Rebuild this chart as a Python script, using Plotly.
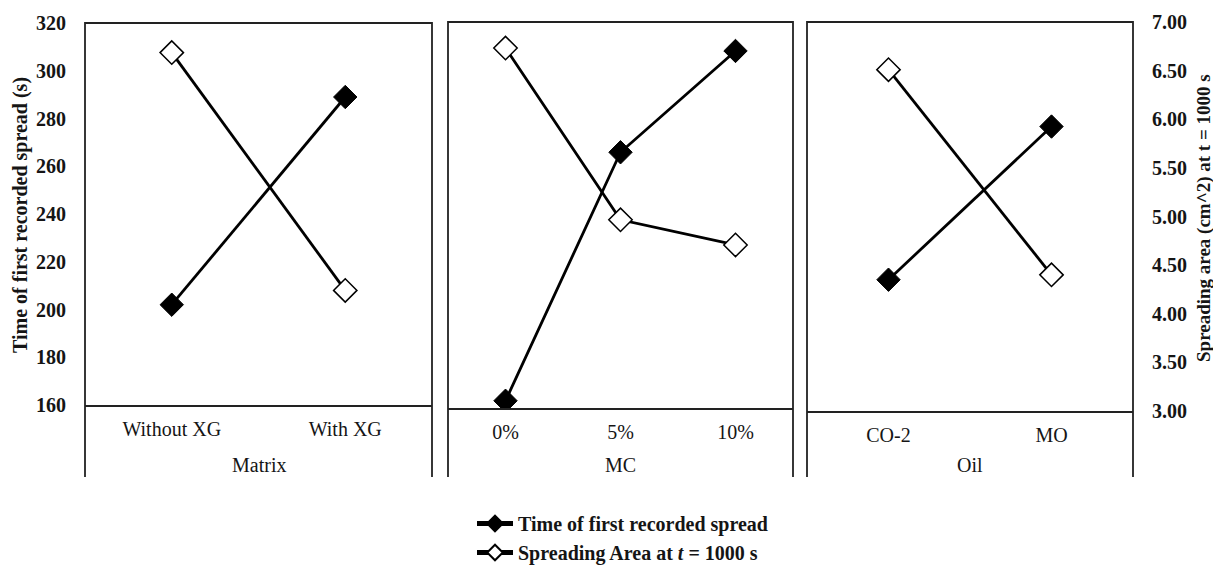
import plotly.graph_objects as go

W, H = 1213, 568

# ---------------- data ----------------
matrix_cats = ["Without XG", "With XG"]
mc_cats = ["0%", "5%", "10%"]
oil_cats = ["CO-2", "MO"]

time_matrix = [202, 289]
time_mc = [163, 266, 308]
time_oil = [214, 277]

area_matrix = [6.69, 4.20]
area_mc = [6.73, 4.95, 4.69]
area_oil = [6.51, 4.40]

factor_titles = ["Matrix", "MC", "Oil"]
left_ticks = [160, 180, 200, 220, 240, 260, 280, 300, 320]
right_ticks = [3.0, 3.5, 4.0, 4.5, 5.0, 5.5, 6.0, 6.5, 7.0]

time_name = "Time of first recorded spread"
area_name = "Spreading Area at <i>t</i> = 1000 s"
left_title = "Time of first recorded spread (s)"
right_title = "Spreading area (cm^2) at t = 1000 s"

# ---------------- layout helpers (pixels -> paper) ----------------
def fx(px):
    return px / W

def fy(py):
    return 1 - py / H

FONT = "Liberation Serif, Times New Roman, serif"
INK = "#151515"
FS = 20

panels = [
    dict(cats=matrix_cats, time=time_matrix, area=area_matrix, title=factor_titles[0],
         px=(85, 432), py=(23, 405)),
    dict(cats=mc_cats, time=time_mc, area=area_mc, title=factor_titles[1],
         px=(448, 793), py=(22, 408)),
    dict(cats=oil_cats, time=time_oil, area=area_oil, title=factor_titles[2],
         px=(807, 1133), py=(22, 411)),
]

fig = go.Figure()
layout = dict(
    width=W, height=H,
    margin=dict(l=0, r=0, t=0, b=0, autoexpand=False),
    paper_bgcolor="white", plot_bgcolor="white",
    font=dict(family=FONT, size=FS, color=INK),
    showlegend=True,
    legend=dict(
        x=fx(472), y=fy(504), xanchor="left", yanchor="top",
        font=dict(family=FONT, size=FS, color=INK, weight="bold"),
        bgcolor="rgba(0,0,0,0)", borderwidth=0, tracegroupgap=0,
        itemsizing="constant", itemwidth=36,
    ),
    shapes=[], annotations=[],
)

for i, p in enumerate(panels):
    n = i + 1
    xa = "x" if n == 1 else f"x{n}"
    ya = "y" if n == 1 else f"y{n}"
    ya2 = f"y{n + 3}"

    fig.add_trace(go.Scatter(
        x=p["cats"], y=p["time"], xaxis=xa, yaxis=ya,
        mode="lines+markers", name=time_name, legendgroup="time",
        showlegend=(i == 0),
        line=dict(color="black", width=2.8),
        marker=dict(symbol="diamond", size=18, color="black",
                    line=dict(color="black", width=1)),
    ))
    fig.add_trace(go.Scatter(
        x=p["cats"], y=p["area"], xaxis=xa, yaxis=ya2,
        mode="lines+markers", name=area_name, legendgroup="area",
        showlegend=(i == 0),
        line=dict(color="black", width=2.8),
        marker=dict(symbol="diamond", size=18, color="white",
                    line=dict(color="black", width=1.5)),
    ))

    x0, x1 = fx(p["px"][0]), fx(p["px"][1])
    ytop, ybot = fy(p["py"][0]), fy(p["py"][1])

    layout["xaxis" if n == 1 else f"xaxis{n}"] = dict(
        domain=[x0, x1], anchor=ya, type="category",
        categoryorder="array", categoryarray=p["cats"],
        range=[-0.5, len(p["cats"]) - 0.5],
        showline=True, linecolor="#222", linewidth=1.8,
        showgrid=False, zeroline=False,
        ticks="outside", ticklen=0, ticklabelstandoff=5,
        tickfont=dict(family=FONT, size=FS, color=INK),
        fixedrange=True,
    )
    layout["yaxis" if n == 1 else f"yaxis{n}"] = dict(
        domain=[ybot, ytop], anchor=xa, range=[160, 320],
        tickvals=left_ticks, showticklabels=(n == 1),
        showline=False, showgrid=False, zeroline=False,
        ticks="outside", ticklen=0, ticklabelstandoff=14,
        tickfont=dict(family=FONT, size=FS, color=INK, weight="bold"),
        fixedrange=True,
    )
    layout[f"yaxis{n + 3}"] = dict(
        overlaying=ya, anchor=xa, side="right", range=[3, 7],
        tickvals=right_ticks, tickformat=".2f", showticklabels=(n == 3),
        showline=False, showgrid=False, zeroline=False,
        ticks="outside", ticklen=0, ticklabelstandoff=14,
        tickfont=dict(family=FONT, size=FS, color=INK, weight="bold"),
        fixedrange=True,
    )

    # panel frame: left, top, right lines extending below the axis
    layout["shapes"].append(dict(
        type="path", xref="paper", yref="paper",
        path=f"M {x0},{fy(477)} L {x0},{ytop} L {x1},{ytop} L {x1},{fy(477)}",
        line=dict(color="#222", width=1.8),
    ))
    layout["annotations"].append(dict(
        text=p["title"], xref="paper", yref="paper",
        x=(x0 + x1) / 2, y=fy(465), xanchor="center", yanchor="middle",
        showarrow=False, font=dict(family=FONT, size=FS, color=INK),
    ))

layout["annotations"].append(dict(
    text=left_title, xref="paper", yref="paper", textangle=-90,
    x=fx(20), y=fy(215), xanchor="center", yanchor="middle", showarrow=False,
    font=dict(family=FONT, size=FS, color=INK, weight="bold"),
))
layout["annotations"].append(dict(
    text=right_title, xref="paper", yref="paper", textangle=-90,
    x=fx(1204), y=fy(218), xanchor="center", yanchor="middle", showarrow=False,
    font=dict(family=FONT, size=FS - 1, color=INK, weight="bold"),
))

fig.update_layout(**layout)
fig.write_html("out.html")
